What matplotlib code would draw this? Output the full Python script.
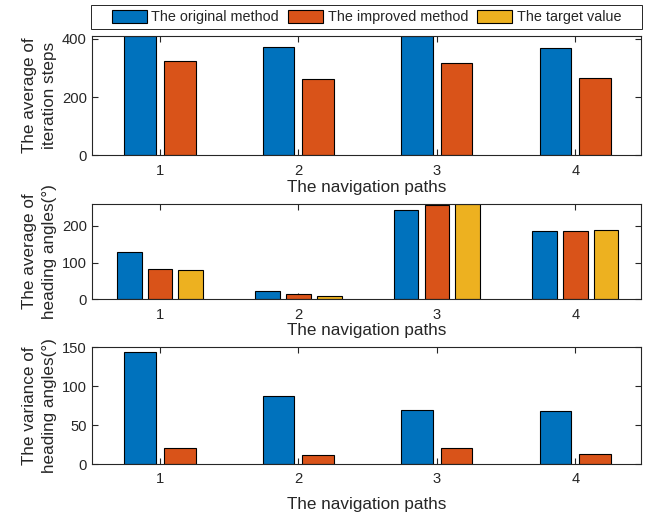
import matplotlib
matplotlib.use("Agg")
import matplotlib.pyplot as plt
import numpy as np
from matplotlib.patches import Patch, Rectangle

paths = [1, 2, 3, 4]
series_names = ["The original method", "The improved method", "The target value"]
iter_original = [411, 371, 409, 369]
iter_improved = [323, 261, 318, 266]
head_original = [130, 24, 243, 187]
head_improved = [84, 15, 257, 185]
head_target = [80, 10, 260, 190]
var_original = [144, 87, 69, 68]
var_improved = [21, 12, 21, 12.5]

colors = ["#0072BD", "#D95319", "#EDB120"]
W, H = 646, 519
fig = plt.figure(figsize=(W / 100, H / 100), dpi=100)

FAM = ["Liberation Sans", "DejaVu Sans"]
tick_font = dict(family=FAM, size=10.6)
lab_font = dict(family=FAM, size=12.3)
axc = "#262626"
LEFT, RIGHT = 92.5, 641

def make_ax(top, bottom):
    return fig.add_axes([LEFT / W, 1 - bottom / H, (RIGHT - LEFT) / W, (bottom - top) / H])

def grouped(ax, top, bottom, data, ylim, yticks, ylabel, xlab_center):
    n = len(data)
    gw = min(0.8, n / (n + 1.5))
    sp = gw / n
    bw = sp * 0.8
    x = np.array(paths, dtype=float)
    for i, vals in enumerate(data):
        off = (i - (n - 1) / 2) * sp
        ax.bar(x + off, vals, width=bw, color=colors[i], edgecolor="black",
               linewidth=0.8, zorder=2)
    ax.set_xlim(0.512, 4.475)
    ax.set_ylim(*ylim)
    ax.set_xticks(paths)
    ax.set_yticks(yticks)
    ax.set_xticklabels([str(p) for p in paths], **tick_font, color=axc)
    ax.set_yticklabels([str(t) for t in yticks], **tick_font, color=axc)
    ax.tick_params(direction="in", top=True, right=True, length=4, width=0.8,
                   color=axc)
    ax.tick_params(axis="x", pad=6)
    ax.tick_params(axis="y", pad=4)
    for s in ax.spines.values():
        s.set_color(axc)
        s.set_linewidth(0.8)
    ax.set_xlabel("The navigation paths", **lab_font, color=axc)
    ax.xaxis.label.set_va("center")
    ax.xaxis.set_label_coords(0.5, -(xlab_center - bottom) / (bottom - top))
    ax.set_ylabel(ylabel, **lab_font, color=axc, linespacing=1.45)
    ax.yaxis.set_label_coords((57 - LEFT) / (RIGHT - LEFT), 0.5)

ax1 = make_ax(35.7, 155.3)
grouped(ax1, 35.7, 155.3, [iter_original, iter_improved], (0, 411), [0, 200, 400],
        "The average of\niteration steps", 187)
ax2 = make_ax(204, 299.3)
grouped(ax2, 204, 299.3, [head_original, head_improved, head_target], (0, 260),
        [0, 100, 200], "The average of\nheading angles(°)", 331)
ax3 = make_ax(346.7, 464)
grouped(ax3, 346.7, 464, [var_original, var_improved], (0, 151), [0, 50, 100, 150],
        "The variance of\nheading angles(°)", 505)

# legend frame
fig.patches.append(Rectangle((91 / W, 1 - 29 / H), (642 - 91) / W, (29 - 4.7) / H,
                             transform=fig.transFigure, facecolor="white",
                             edgecolor=axc, linewidth=0.7, zorder=0))
handles = [Patch(facecolor=colors[i], edgecolor="black", linewidth=0.8) for i in range(3)]
leg = fig.legend(handles, series_names, loc="center",
                 bbox_to_anchor=((91 + 642) / 2 / W, 1 - 17 / H),
                 ncol=3, frameon=False,
                 prop=dict(family=FAM, size=10.4),
                 handlelength=2.43, handleheight=1.04, handletextpad=0.31,
                 columnspacing=0.63, borderpad=0.2)
for t in leg.get_texts():
    t.set_color(axc)

fig.savefig("out.png", dpi=100)
